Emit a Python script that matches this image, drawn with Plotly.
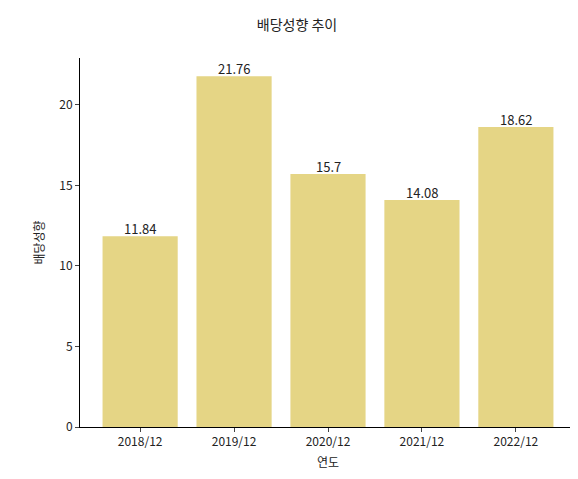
import plotly.graph_objects as go

years = ["2018/12", "2019/12", "2020/12", "2021/12", "2022/12"]
values = [11.84, 21.76, 15.7, 14.08, 18.62]
labels = ["11.84", "21.76", "15.7", "14.08", "18.62"]

font = "Noto Sans CJK KR"
xs = list(range(len(years)))
fig = go.Figure(go.Bar(
    x=xs, y=values, width=0.8,
    marker=dict(color="#E5D585", line=dict(width=0)),
))
for x, v, t in zip(xs, values, labels):
    fig.add_annotation(x=x, y=v, text=t, showarrow=False, yanchor="bottom", yshift=-4,
                       font=dict(family=font, size=13, color="#222"))
fig.update_layout(
    width=578, height=479,
    margin=dict(l=72, r=10, t=50, b=60),
    paper_bgcolor="white", plot_bgcolor="white",
    font=dict(family=font, size=12, color="#222"),
    title=dict(text="배당성향 추이", x=0.5, xanchor="center", y=0.965, yanchor="middle",
               font=dict(family=font, size=14, color="#222")),
    showlegend=False,
)
fig.update_xaxes(range=[-0.64, 4.64], tickmode="array", tickvals=xs, automargin=False,
                 ticktext=years, showline=True, linecolor="black", linewidth=1,
                 ticks="outside", ticklen=4, showgrid=False, zeroline=False,
                 title=dict(text="연도", standoff=10, font=dict(size=12)))
fig.update_yaxes(range=[0, 22.9], tickvals=[0, 5, 10, 15, 20], showline=True, automargin=False,
                 linecolor="black", linewidth=1, ticks="outside", ticklen=4,
                 showgrid=False, zeroline=False, title=dict(text="배당성향", standoff=12, font=dict(size=12)))
fig.write_html("out.html")
